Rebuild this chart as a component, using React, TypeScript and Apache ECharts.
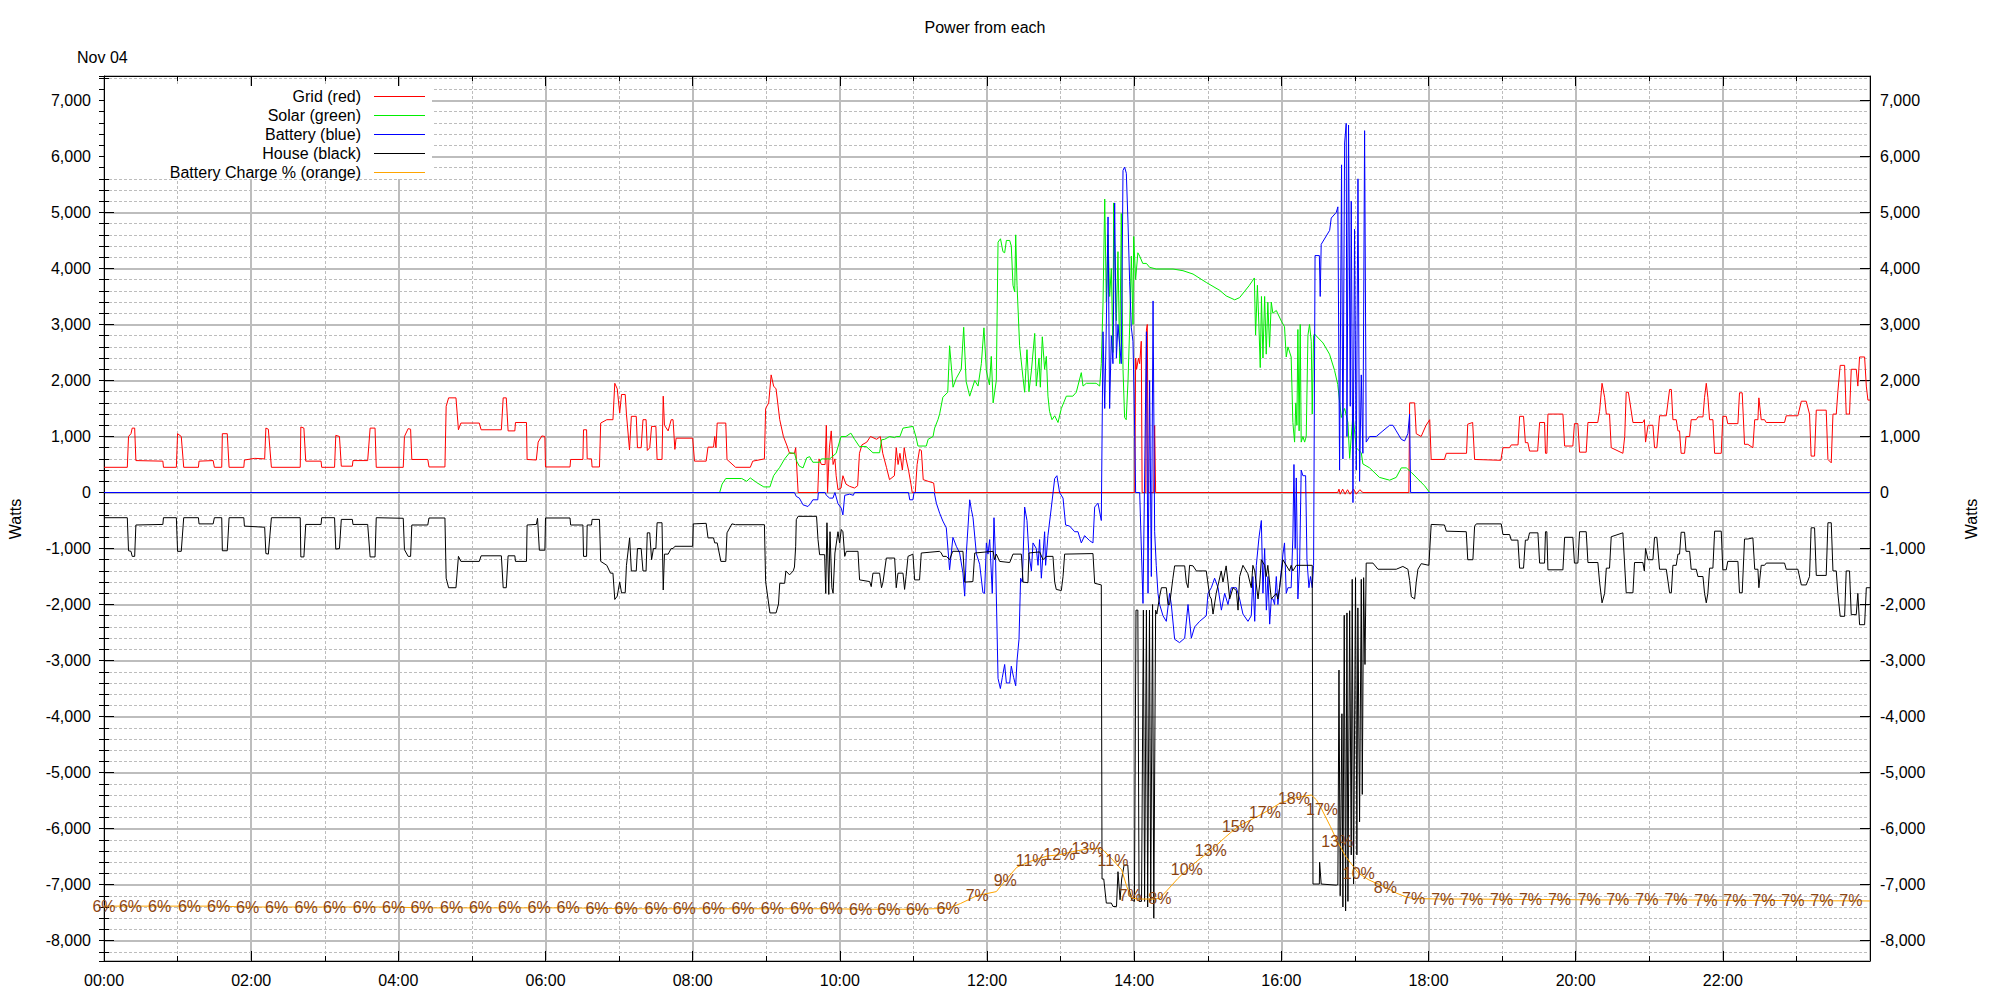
import React, { useEffect, useRef } from "react";
import * as echarts from "echarts";

const FONT = '"Liberation Sans", Arial, Helvetica, sans-serif';

const titleText = "Power from each";
const dateText = "Nov 04";
const axisName = "Watts";
const xTickLabels = ["00:00", "02:00", "04:00", "06:00", "08:00", "10:00", "12:00", "14:00", "16:00", "18:00", "20:00", "22:00"];
const seriesNames = ["Grid (red)", "Solar (green)", "Battery (blue)", "House (black)", "Battery Charge % (orange)"];
const seriesColors = ["#ff0000", "#00ee00", "#0000ff", "#000000", "#ffa500"];

// [minute of day, watts]
const gridW: number[][] = [
  [0,450],[19,450],[20,1000],[22,1050],[23,1150],[25,1150],[26,570],[48,560],[48.5,450],[59,450],[60,1050],[63,1000],[65,450],[77,450],[77.5,560],[89,570],[90,450],[96,450],[96.5,1050],[100.5,1050],[102,450],[114,450],[114.5,580],[123,610],[131,600],[132,1150],[134,1130],[136.5,450],[160,450],[160.5,1170],[163,1150],[164.5,560],[177,560],[177.5,450],[188,450],[189,1020],[192,1000],[193.5,470],[202.5,470],[203,570],[215,570],[217,1150],[221,1150],[222,450],[244,450],[245,1000],[248,1140],[250,1130],[251,590],[264,590],[265,456],[278,456],[279,1540],[281,1690],[287,1690],[289,1120],[291,1240],[306,1240],[307.5,1120],[324,1120],[325.5,1690],[328,1690],[329.5,1100],[335,1100],[335.5,1250],[344.5,1250],[345,590],[352.5,580],[354,900],[357,1010],[359.5,1000],[360,456],[380,456],[380.5,590],[390.5,590],[391,1120],[393.5,1120],[394,600],[397.5,600],[398,456],[404,456],[405,1240],[410,1300],[415,1300],[416.5,1950],[418.5,1850],[420.5,1420],[422,1750],[425,1750],[426,1400],[428.5,760],[430,1360],[434,1360],[435,800],[438,800],[439.5,1300],[442,1300],[443,750],[445,800],[446.5,1180],[450,1180],[451,590],[455,590],[456,1720],[457,1200],[460,1100],[462.5,1300],[464,1300],[465.5,770],[466.5,970],[480,970],[481.5,560],[491,560],[492.5,810],[497,810],[498,1000],[499,800],[500,1240],[507,1240],[508,590],[515,450],[527,450],[529,560],[538.5,600],[539.5,1500],[542,1600],[544,2100],[546,1900],[548,1850],[551,1300],[554,1000],[557,830],[559,700],[563,700],[564,800],[566,0],[582,0],[583,600],[585,500],[588,500],[589,1200],[590,0],[591.5,800],[593,1100],[594.5,500],[596,600],[597,300],[598.5,50],[601,80],[602.5,300],[605,150],[608,110],[612,80],[614.5,120],[616,700],[618,850],[622,900],[625,1000],[630,950],[633,1000],[635,700],[638,450],[640.5,230],[644.5,300],[646,800],[647.5,500],[649,700],[651,400],[652.5,800],[654,600],[656,400],[658,150],[659,0],[661.5,0],[663,500],[665,770],[666.5,750],[668,230],[672,200],[676.5,170],[677.5,0],[840.5,0],[841.2,2400],[842,2200],[843.5,2400],[844.5,2300],[845.8,2700],[846.5,0],[849.5,0],[850,2900],[850.7,3000],[851.5,0],[856,0],[856.7,1200],[857.5,0],[1006,0],[1007,60],[1008,-30],[1010,60],[1012,-30],[1014,50],[1016,-30],[1019,60],[1021,-30],[1024,50],[1026.5,0],[1064,0],[1064.6,1600],[1068.7,1600],[1070,1050],[1074,1000],[1078,1200],[1081,1300],[1082.2,590],[1093,590],[1094.5,700],[1111,700],[1112,1220],[1116,1250],[1117.6,590],[1139,575],[1140.7,800],[1146,800],[1147.5,850],[1153,850],[1154.3,1360],[1157.5,1360],[1159,890],[1161,890],[1162.4,740],[1169,740],[1170.6,1250],[1174.6,1250],[1175.4,700],[1176.5,700],[1177.4,1400],[1189.6,1400],[1191,830],[1197.7,830],[1199,1230],[1201.8,1230],[1203.2,720],[1208.6,720],[1210,1250],[1218,1250],[1219.5,1450],[1221.5,1950],[1223.6,1700],[1225,1400],[1227.6,1400],[1229,800],[1238.5,700],[1240,1000],[1241.2,1790],[1243,1790],[1246.7,1250],[1254.8,1250],[1256,1300],[1257,900],[1259,1200],[1263,1200],[1264.3,800],[1266.2,800],[1268.4,1370],[1273.9,1370],[1276.6,1840],[1278,1840],[1279.3,1300],[1282,1300],[1283.4,1100],[1284.7,1100],[1286,700],[1288.8,700],[1290,1000],[1292.9,1000],[1294.2,1300],[1298.3,1300],[1299.7,1350],[1303.8,1350],[1305.1,1700],[1306.5,1950],[1307.8,1700],[1309.2,1300],[1311.9,1300],[1313.3,700],[1318.7,700],[1320,1360],[1322.8,1360],[1324,1230],[1332.3,1230],[1333.6,1780],[1335.8,1780],[1337.7,860],[1340.4,860],[1344.5,800],[1346,1300],[1348.6,1300],[1349.4,1690],[1351.3,1300],[1354,1300],[1355.4,1250],[1370.3,1250],[1371.7,1370],[1381.2,1370],[1384,1630],[1388,1630],[1390.7,1400],[1392,650],[1394.8,650],[1396.2,1470],[1404.3,1470],[1405.7,590],[1408.4,530],[1409.8,1400],[1412.5,1400],[1413.8,1800],[1415.7,2270],[1419.3,2270],[1420.6,1400],[1423.3,1400],[1424.7,2200],[1428.8,2200],[1430.1,1900],[1431.5,2420],[1435.6,2420],[1437,1900],[1438.3,1650],[1440,1650]
];

const solarW: number[][] = [
  [0,0],[502,0],[504,150],[507,250],[520,250],[524,200],[527,260],[532,180],[538,100],[543,100],[546,300],[551,450],[555,600],[559,710],[563,700],[565,550],[567,470],[570,440],[573,620],[575.4,640],[578,540],[583.5,540],[585,600],[591.7,600],[597,700],[601,1000],[605,1000],[609,1060],[612,950],[616,820],[621.6,820],[627,710],[632.4,710],[634,940],[636.5,950],[640.6,1000],[644.7,980],[646,1000],[649,1000],[651.5,1150],[659.6,1180],[662,1000],[663.7,830],[670.5,830],[672,950],[676,1000],[677.3,1150],[680,1300],[681.4,1405],[684,1700],[688,1790],[689.5,2620],[692.3,1880],[695,2040],[699,2200],[701,2950],[703,1980],[705.9,1720],[710,2000],[712.7,1900],[715.4,2300],[717.5,2940],[719.5,2170],[722,1920],[723.5,2430],[725,1600],[727.6,2000],[729,4470],[731,4530],[733,4300],[734.4,4280],[735.8,4500],[738.5,4500],[739.8,4400],[741.2,3700],[742.6,3580],[743.4,4600],[744.5,3700],[746.6,2620],[749.4,2040],[750.7,1790],[752.6,2550],[754.2,1800],[756.2,2170],[758.9,2840],[760.2,1900],[762.4,2400],[763.5,1880],[765.1,2780],[767,2200],[768.4,2430],[769.7,1720],[771,1450],[773,1300],[775.2,1370],[777.9,1250],[780.6,1500],[784.7,1720],[790,1720],[792.8,1790],[796.9,2140],[798.3,1900],[801,1950],[809,1950],[811.9,1900],[813.2,2300],[814.6,3390],[816,5240],[817.3,3400],[818.7,4600],[820,3500],[821.4,4000],[822.7,2500],[823.3,5170],[825.5,3070],[826.8,4300],[828.2,2300],[829.5,4980],[830.9,2200],[832.2,1340],[833.5,1300],[835,2000],[836.3,2940],[837.7,4220],[839,3000],[839.6,4570],[841.2,3800],[843,4280],[844.5,4220],[847,4090],[850,4090],[852.6,4020],[858,3990],[871.7,3990],[879.8,3960],[888,3900],[898.8,3750],[909.7,3610],[915,3510],[922,3440],[926,3480],[934,3700],[938,3830],[939,2810],[940.5,3700],[941.7,3000],[942.8,2230],[943.8,3500],[945,2400],[946.4,3500],[947.7,2470],[949,3400],[950.4,2600],[951.8,3400],[953.1,3200],[955.9,3250],[960,3060],[962.6,2960],[964,2420],[965.4,2600],[968,2420],[969.4,1250],[970.8,900],[971.8,1600],[972.7,1200],[973.5,2910],[974.5,1100],[975.4,3000],[976.2,900],[977.6,1000],[979,900],[980.3,1000],[981.7,2810],[983,3000],[984.4,2700],[985.2,1400],[986.3,2800],[987,2830],[994,2670],[999.3,2470],[1003.4,2180],[1006,1930],[1008.9,1340],[1011.6,1500],[1014.3,1250],[1015.7,610],[1018.4,1400],[1021,800],[1025.2,710],[1026.5,510],[1032,440],[1040,270],[1048.3,220],[1053.7,270],[1057.8,440],[1061.9,440],[1066,360],[1071.4,240],[1076.8,120],[1080.9,0],[1440,0]
];

const batteryW: number[][] = [
  [0,0],[563,0],[564.5,-70],[567,-100],[570,-220],[574,-250],[576,-200],[578,-130],[582,-130],[582.5,0],[588,0],[589,-50],[591.7,-100],[594.4,-100],[596,0],[598.5,-200],[601.2,-280],[602.5,-400],[604,-50],[608,-30],[611,-50],[612,0],[656,0],[657,-130],[659.6,-130],[660.5,0],[677,0],[678.7,-190],[681.4,-370],[684,-510],[686.8,-630],[689.5,-1380],[692.2,-800],[695,-960],[697.7,-1080],[700.4,-1440],[701.8,-1850],[703.1,-1100],[705.9,-130],[707.2,-300],[708.6,-450],[711.3,-1090],[714,-1280],[716.7,-1790],[718,-1800],[719.5,-900],[720.8,-1100],[722.2,-840],[724.3,-1800],[725.7,-450],[727,-1200],[729,-3320],[730.9,-3500],[732.5,-3300],[734.4,-3070],[735.8,-3400],[738.5,-3400],[739.8,-3100],[741.7,-3300],[743.4,-3450],[744.5,-3000],[746.1,-2620],[747.4,-1530],[748.8,-1600],[750.7,-260],[752.6,-500],[754.2,-1100],[756.2,-1400],[757.5,-900],[760.2,-1000],[761.6,-1300],[762.9,-840],[764.3,-1530],[767,-700],[767.8,-1300],[769.7,-770],[772.5,-260],[775.2,250],[777,300],[779.2,0],[782,-100],[784.1,-580],[787.4,-600],[791.5,-700],[794.2,-700],[796.9,-900],[799.6,-770],[803.7,-860],[806.4,-900],[807.8,-260],[810.5,-190],[813.2,-500],[814.6,2870],[816,1500],[817.3,3000],[818.7,4920],[820,1500],[821.4,2800],[822.7,2300],[824.1,5170],[825.5,2400],[826.8,3000],[829.5,2300],[830.9,5750],[832.2,5810],[833.6,5700],[835,4800],[836.3,3770],[837.7,2940],[839,2700],[839.9,1800],[841.2,0],[844.5,0],[847.2,-1980],[848.6,400],[850,2870],[851.3,-1800],[852.6,2000],[854,-1500],[855.4,3420],[856.7,-700],[858,-1300],[859.4,-1800],[860.8,-2000],[863.5,-2200],[866.2,-2300],[868.9,-1800],[870.3,-2000],[873,-2620],[877,-2680],[881.2,-2600],[883.9,-2000],[886.6,-2600],[889.3,-2400],[893.4,-2300],[898.8,-2200],[900.2,-1800],[902.9,-1700],[905.6,-1530],[908.4,-1700],[911.1,-2100],[913.8,-1800],[916.5,-2000],[919.2,-1700],[923.3,-1700],[926,-1900],[928.7,-2170],[932.8,-2300],[935.5,-2200],[936.8,-1500],[938.3,-2300],[939.6,-1300],[941.8,-800],[943.7,-500],[945,-1800],[946.4,-1000],[947.8,-2100],[949.1,-1500],[950.5,-2350],[951.8,-1900],[953.2,-1900],[954.5,-2000],[955.9,-1500],[957.2,-2000],[958.6,-1700],[961.3,-1100],[962.6,-900],[964,-1800],[965.4,-1700],[968,-1700],[969.4,-800],[970.3,500],[971.3,-1000],[972.2,260],[973.5,-1900],[974.9,-1300],[976.2,400],[977.6,300],[979.8,300],[980.9,-1200],[982.5,-1700],[983.8,-1500],[985.2,-1700],[986.3,-1300],[987.5,4230],[991,4230],[991.7,3500],[992.5,4430],[999.4,4680],[1000.7,4900],[1004.8,5000],[1006.1,5100],[1007.5,400],[1009.1,5850],[1010.2,600],[1011.6,6240],[1012.9,6590],[1013.5,1000],[1014.8,6560],[1016.2,1540],[1017,5200],[1018.4,-180],[1019.7,4700],[1021.1,400],[1022.5,5600],[1023.8,200],[1025.2,2100],[1026.5,700],[1027.9,6460],[1029.2,900],[1032,1000],[1037.4,1000],[1042.8,1100],[1048.3,1200],[1051,1200],[1053.7,1100],[1057.8,950],[1060.5,920],[1063.2,1050],[1064.6,1400],[1065.4,0],[1440,0]
];

const houseW: number[][] = [
  [0,-450],[19,-450],[20,-1040],[22,-1050],[23,-1140],[25,-1140],[26,-580],[48,-570],[48.5,-450],[59,-450],[60,-1050],[63,-1050],[65,-450],[77,-450],[77.5,-560],[89,-560],[90,-450],[96,-450],[96.5,-1040],[100.5,-1040],[102,-450],[114,-450],[114.5,-600],[131,-620],[132,-1090],[134,-1100],[136.5,-450],[160,-450],[160.5,-1150],[163,-1150],[164.5,-570],[177,-570],[177.5,-450],[188,-450],[189,-1010],[192,-1000],[193.5,-480],[202.5,-480],[203,-570],[215,-570],[217,-1150],[221,-1150],[222,-450],[244,-460],[245,-1020],[248,-1140],[250,-1140],[251,-580],[264,-580],[265,-455],[278,-455],[279,-1530],[281,-1700],[287,-1700],[289,-1140],[291,-1230],[306,-1230],[307.5,-1130],[324,-1130],[325.5,-1700],[328,-1700],[329.5,-1130],[335,-1130],[335.5,-1230],[344.5,-1230],[345,-580],[352.5,-570],[353.5,-460],[355,-1030],[359.5,-1030],[360,-455],[380,-455],[380.5,-580],[390.5,-580],[391,-1140],[393.5,-1140],[394,-580],[397.5,-580],[398,-480],[404,-480],[405,-1230],[410,-1300],[413,-1440],[415,-1440],[416.5,-1910],[418.5,-1850],[420.5,-1600],[422,-1790],[425,-1790],[426,-1300],[428.6,-810],[430,-1400],[434,-1400],[435,-1000],[438,-1000],[439.5,-1400],[442,-1400],[443,-720],[445,-720],[446.5,-1200],[448,-1000],[450,-1000],[451,-540],[455,-540],[456,-1740],[457,-1100],[460,-1100],[462.5,-1000],[464,-1000],[465.5,-960],[480,-960],[480.5,-560],[491,-550],[492.5,-810],[497,-810],[498,-900],[500,-900],[503,-1230],[507,-1230],[508,-720],[512,-560],[515,-575],[538.5,-575],[539.5,-1590],[543,-2150],[548,-2150],[550,-1990],[551,-1620],[555,-1620],[556,-1400],[559,-1470],[562,-1400],[563,-1330],[564,-960],[564.5,-485],[566,-425],[581,-425],[582.2,-840],[583.5,-1110],[587.6,-1110],[588.5,-1800],[589.5,-540],[591,-1820],[592,-700],[593.5,-1700],[594.5,-1800],[596,-1080],[598.5,-700],[599.8,-900],[601.2,-660],[602.5,-700],[604,-1140],[605.3,-1050],[614.8,-1050],[616.1,-1560],[624.3,-1590],[625.6,-1680],[627,-1440],[632.4,-1440],[634,-1700],[635.2,-1600],[637.9,-1170],[644.7,-1170],[646,-1700],[647.4,-1440],[651.5,-1440],[652.8,-1730],[654,-1500],[655.6,-1140],[659.6,-1100],[661,-1560],[665,-1560],[666.4,-1080],[681.4,-1050],[682.7,-1080],[684,-1140],[686.8,-1140],[689.5,-1200],[692,-1050],[700.4,-1050],[701.8,-1600],[708.5,-1590],[710,-1080],[725,-1050],[726.2,-1200],[727.6,-1100],[730.3,-1230],[738.5,-1250],[741.2,-1100],[748,-1100],[749.4,-1600],[753.4,-1610],[754.2,-1080],[762.9,-1060],[765.7,-1200],[768.4,-1140],[773.8,-1140],[775.2,-1600],[776.5,-1730],[780.6,-1750],[782,-1500],[783.3,-1100],[806.4,-1090],[807.8,-1620],[813.2,-1650],[813.8,-6900],[815.2,-6900],[817.3,-7330],[821.4,-7330],[822.7,-7390],[825.6,-7390],[826.8,-6770],[828.5,-7270],[829.8,-6900],[831.8,-6650],[834.8,-6650],[836,-7090],[838,-7270],[840.2,-7300],[841.5,-2100],[843,-2100],[844,-7300],[846,-7300],[847.5,-2100],[848.5,-7300],[850,-2100],[851,-7400],[852.5,-2100],[853.5,-7300],[855,-2000],[856,-7600],[857.5,-2100],[858.5,-2170],[860.8,-1850],[862.2,-1700],[866.2,-1700],[867.6,-2000],[868.9,-2000],[871.6,-1530],[873,-1310],[881.2,-1310],[882.5,-1600],[883.9,-1700],[885.2,-1300],[888,-1310],[890.7,-1400],[898.8,-1400],[901.6,-1850],[902.9,-1900],[904.3,-2170],[906.9,-1800],[911,-1400],[912.4,-1600],[915,-1310],[916.5,-1600],[917.9,-1900],[920.6,-1700],[923.3,-1750],[924.7,-2100],[926,-1500],[928.7,-1300],[932.7,-1450],[935.5,-1700],[936.8,-1300],[938.3,-1400],[941,-1900],[942.3,-1650],[943.7,-1200],[946.4,-1300],[947.7,-1500],[949,-1300],[951.8,-1900],[955.9,-1800],[957.2,-1900],[958.6,-1700],[961.3,-1200],[966.7,-1400],[968,-1300],[969.4,-1400],[972.2,-1300],[985.2,-1300],[985.8,-6990],[991,-6990],[991.2,-6600],[992.5,-6990],[1004.8,-7010],[1006.1,-7000],[1007,-3170],[1008,-7200],[1009.4,-3950],[1010.2,-7400],[1011.3,-2190],[1012.4,-7470],[1013.5,-2150],[1014.3,-7300],[1015.7,-2110],[1017,-6470],[1017.8,-1550],[1018.9,-6990],[1020.5,-1520],[1021.6,-6470],[1022.4,-2060],[1023.8,-5880],[1025.2,-1550],[1026,-5390],[1027.1,-1520],[1028.2,-3070],[1029.2,-1260],[1034.7,-1260],[1038.8,-1370],[1053.7,-1370],[1059.1,-1320],[1063.2,-1370],[1064.6,-1570],[1066,-1860],[1068.7,-1900],[1070,-1600],[1071.4,-1370],[1074.1,-1270],[1080.3,-1300],[1082.2,-570],[1093,-580],[1094.5,-690],[1110.8,-700],[1112,-1200],[1116.2,-1200],[1117.6,-600],[1119,-560],[1139.3,-560],[1140.7,-750],[1146.1,-750],[1147.5,-850],[1152.9,-850],[1154.3,-1350],[1157.5,-1350],[1159,-850],[1161,-850],[1162.4,-720],[1169.2,-720],[1170.6,-1260],[1174.6,-1260],[1175.4,-700],[1176.5,-700],[1177.4,-1380],[1189.6,-1380],[1191,-800],[1197.7,-800],[1199,-1260],[1201.8,-1260],[1203.2,-700],[1208.6,-700],[1210,-1250],[1218.1,-1250],[1219.5,-1600],[1221.5,-1970],[1223.6,-1800],[1225,-1350],[1227.6,-1350],[1229,-790],[1238.5,-720],[1241.2,-1790],[1246.7,-1790],[1248,-1250],[1254.8,-1250],[1256,-1400],[1257,-1000],[1259,-1200],[1263,-1200],[1264.3,-800],[1266.2,-800],[1268.4,-1370],[1273.9,-1370],[1276.6,-1790],[1278,-1790],[1279.3,-1300],[1282,-1300],[1283.4,-1100],[1284.7,-1100],[1286,-710],[1288.8,-710],[1290,-1050],[1292.9,-1050],[1294.2,-1370],[1298.3,-1370],[1299.7,-1500],[1303.8,-1500],[1305.1,-1800],[1306.5,-1970],[1307.8,-1800],[1309.2,-1350],[1311.9,-1350],[1313.3,-690],[1318.7,-690],[1320,-1380],[1322.8,-1380],[1324,-1230],[1332.3,-1230],[1333.6,-1790],[1335.8,-1790],[1337.7,-830],[1340.4,-830],[1344.5,-810],[1346,-1370],[1348.6,-1370],[1349.4,-1700],[1351.3,-1300],[1354,-1300],[1355.4,-1260],[1370.3,-1260],[1371.7,-1370],[1381.2,-1370],[1384,-1650],[1388,-1650],[1390.7,-1500],[1392,-630],[1394.8,-630],[1396.2,-1480],[1404.3,-1480],[1405.7,-540],[1408.4,-540],[1409.8,-1400],[1412.5,-1400],[1413.8,-1800],[1415.7,-2210],[1419.3,-2210],[1420.6,-1400],[1423.3,-1400],[1424.7,-2180],[1428.8,-2180],[1430.1,-1800],[1431.5,-2360],[1435.6,-2360],[1437,-1700],[1440,-1700]
];

// [minute of day, battery charge %, label shown at that point]
const chargePct: (number | string)[][] = [
  [0,6.2,"6%"],[21.6,6.2,"6%"],[45.3,6.2,"6%"],[69.7,6.2,"6%"],[93.4,6.2,"6%"],[117.1,6.1,"6%"],[140.7,6.1,"6%"],[164.8,6.1,"6%"],[187.9,6.1,"6%"],[212.3,6.1,"6%"],[236.1,6.1,"6%"],[259.3,6.0,"6%"],[283.4,6.0,"6%"],[307,6.0,"6%"],[330.7,6.0,"6%"],[354.8,6.0,"6%"],[378.4,6.0,"6%"],[402,5.95,"6%"],[425.7,5.9,"6%"],[450.2,5.9,"6%"],[473.1,5.9,"6%"],[497,5.9,"6%"],[521,5.9,"6%"],[545,5.9,"6%"],[569,5.9,"6%"],[593,5.9,"6%"],[617,5.85,"6%"],[640,5.85,"6%"],[663.3,5.85,"6%"],[688.3,5.95,"6%"],
  [698.5,6.5,""],[712,7.4,"7%"],[727.6,7.84,""],[734.9,9.1,"9%"],[744.4,10.6,""],[756,11.3,"11%"],[769.3,11.87,""],[779,12.0,"12%"],[790,12.36,""],[801.9,12.66,"13%"],[811,12.74,""],[815,12.5,""],[822.7,11.4,"11%"],[829.8,10.3,""],[834,8.4,""],[836.8,7.4,"7%"],[838,7.1,""],[844,7.0,""],[857,7.0,""],[860.9,7.1,"8%"],[867,8.0,""],[875.5,9.3,""],[882.9,10.3,"10%"],[894,11.6,""],[902.5,12.5,"13%"],[914.8,14.05,""],[924.6,15.2,"15%"],[940,16.3,""],[946.6,16.8,"17%"],[958.6,17.8,""],[970.3,18.4,"18%"],[984.4,18.76,""],[988.7,18.2,""],[993.2,17.07,"17%"],[1000,15.2,""],[1005.7,13.5,"13%"],[1012.5,11.8,""],[1018.8,10.66,""],[1023.2,9.9,"10%"],[1031.4,9.16,""],[1044.8,8.33,"8%"],[1054.2,7.65,""],[1062.5,7.2,""],
  [1067.9,7.05,"7%"],[1091.6,7.0,"7%"],[1115.2,7.0,"7%"],[1139.5,6.97,"7%"],[1163.2,6.95,"7%"],[1186.8,6.95,"7%"],[1211,6.9,"7%"],[1234.3,6.9,"7%"],[1258.1,6.9,"7%"],[1281.8,6.9,"7%"],[1306.2,6.88,"7%"],[1329.8,6.85,"7%"],[1353.4,6.85,"7%"],[1377.1,6.82,"7%"],[1400.7,6.8,"7%"],[1424.4,6.8,"7%"],[1440,6.78,""]
];

const Y_MIN = -8364;
const Y_MAX = 7436;

export default function App() {
  const ref = useRef<HTMLDivElement>(null);
  useEffect(() => {
    document.body.style.margin = "0";
    if (!ref.current) return;
    const chart = echarts.init(ref.current, null, { renderer: "svg" });

    const gridSolid = { color: "#bdbdbd", width: 2 };
    const gridDash = { color: "#bdbdbd", width: 1, type: [3, 2] };

    const yMajor = (position: string, withSplit: boolean, showLabel: boolean) => ({
      type: "value",
      position,
      min: Y_MIN,
      max: Y_MAX,
      splitNumber: 16,
      minInterval: 1000,
      maxInterval: 1000,
      axisLine: { show: true, lineStyle: { color: "#000", width: 1 } },
      axisTick: { show: true, inside: true, length: 10, lineStyle: { color: "#000", width: 1 } },
      axisLabel: {
        show: showLabel,
        margin: position === "left" ? 13 : 10,
        color: "#000",
        fontSize: 16,
        fontFamily: FONT,
        showMinLabel: false,
        showMaxLabel: false,
        formatter: (v: number) => (Math.abs(v % 1000) < 1e-6 ? v.toLocaleString("en-US") : ""),
      },
      splitLine: { show: withSplit, lineStyle: gridSolid },
    });
    const yMinor = (position: string, withSplit: boolean) => ({
      type: "value",
      position,
      min: Y_MIN,
      max: Y_MAX,
      splitNumber: 79,
      minInterval: 200,
      maxInterval: 200,
      axisLine: { show: false },
      axisTick: { show: true, inside: true, length: 5, lineStyle: { color: "#000", width: 1 } },
      axisLabel: { show: false },
      splitLine: { show: withSplit, lineStyle: gridDash },
    });

    const xBase = (position: string, main: boolean) => ({
      type: "value",
      position,
      min: 0,
      max: 1440,
      interval: 120,
      axisLine: { show: true, onZero: false, lineStyle: { color: "#000", width: 1 } },
      axisTick: { show: true, inside: true, length: 10, lineStyle: { color: "#000", width: 1 } },
      minorTick: { show: true, splitNumber: 2, length: 5, lineStyle: { color: "#000", width: 1 } },
      axisLabel: {
        show: main,
        margin: 11,
        color: "#000",
        fontSize: 16,
        fontFamily: FONT,
        formatter: (v: number) => xTickLabels[Math.round(v / 120)] ?? "",
      },
      splitLine: { show: main, lineStyle: gridSolid },
      minorSplitLine: { show: main, lineStyle: gridDash },
    });

    const lineSeries = (i: number, data: number[][]) => ({
      name: seriesNames[i],
      type: "line",
      data,
      xAxisIndex: 0,
      yAxisIndex: 2,
      showSymbol: false,
      symbol: "none",
      silent: true,
      lineStyle: { color: seriesColors[i], width: 1 },
      itemStyle: { color: seriesColors[i] },
      emphasis: { disabled: true },
    });

    const legendY = [96, 115, 134, 153, 172];
    const legendGraphics: any[] = [
      {
        type: "rect",
        z: 100,
        shape: { x: 105, y: 86, width: 327, height: 93 },
        style: { fill: "#ffffff" },
      },
    ];
    seriesNames.forEach((n, i) => {
      legendGraphics.push({
        type: "text",
        z: 101,
        x: 361,
        y: legendY[i],
        style: { text: n, align: "right", verticalAlign: "middle", fill: "#000", font: `16px ${FONT}` },
      });
      legendGraphics.push({
        type: "line",
        z: 101,
        shape: { x1: 374, y1: legendY[i] + 0.5, x2: 425, y2: legendY[i] + 0.5 },
        style: { stroke: seriesColors[i], lineWidth: 1 },
      });
    });

    chart.setOption({
      animation: false,
      backgroundColor: "#fff",
      grid: { left: 104, right: 130, top: 76, bottom: 39, containLabel: false, outerBoundsMode: "none" },
      xAxis: [xBase("bottom", true), xBase("top", false)],
      yAxis: [
        yMinor("left", true),
        yMinor("right", false),
        yMajor("left", true, true),
        yMajor("right", false, true),
        { type: "value", min: 0, max: 100, show: false, splitLine: { show: false } },
      ],
      series: [
        lineSeries(0, gridW),
        lineSeries(1, solarW),
        lineSeries(2, batteryW),
        lineSeries(3, houseW),
        {
          name: seriesNames[4],
          type: "line",
          data: chargePct,
          encode: { x: 0, y: 1 },
          xAxisIndex: 0,
          yAxisIndex: 4,
          showSymbol: true,
          symbol: "circle",
          symbolSize: 1,
          silent: true,
          itemStyle: { color: "rgba(0,0,0,0)", borderWidth: 0 },
          lineStyle: { color: seriesColors[4], width: 1 },
          emphasis: { disabled: true },
          label: {
            show: true,
            position: "inside",
            color: "#8b4513",
            fontSize: 16,
            fontFamily: FONT,
            formatter: (p: any) => (p.value && p.value[2]) || "",
          },
          labelLayout: { hideOverlap: false },
        },
      ],
      graphic: [
        {
          type: "text",
          x: 985,
          y: 27,
          style: { text: titleText, align: "center", verticalAlign: "middle", fill: "#000", font: `16px ${FONT}` },
        },
        {
          type: "text",
          x: 77,
          y: 57,
          style: { text: dateText, align: "left", verticalAlign: "middle", fill: "#000", font: `16px ${FONT}` },
        },
        {
          type: "text",
          x: 15,
          y: 519,
          rotation: Math.PI / 2,
          style: { text: axisName, align: "center", verticalAlign: "middle", fill: "#000", font: `16px ${FONT}` },
        },
        {
          type: "text",
          x: 1971,
          y: 519,
          rotation: Math.PI / 2,
          style: { text: axisName, align: "center", verticalAlign: "middle", fill: "#000", font: `16px ${FONT}` },
        },
        ...legendGraphics,
      ],
    });
    return () => chart.dispose();
  }, []);
  return <div ref={ref} style={{ width: 2000, height: 1000 }} />;
}
